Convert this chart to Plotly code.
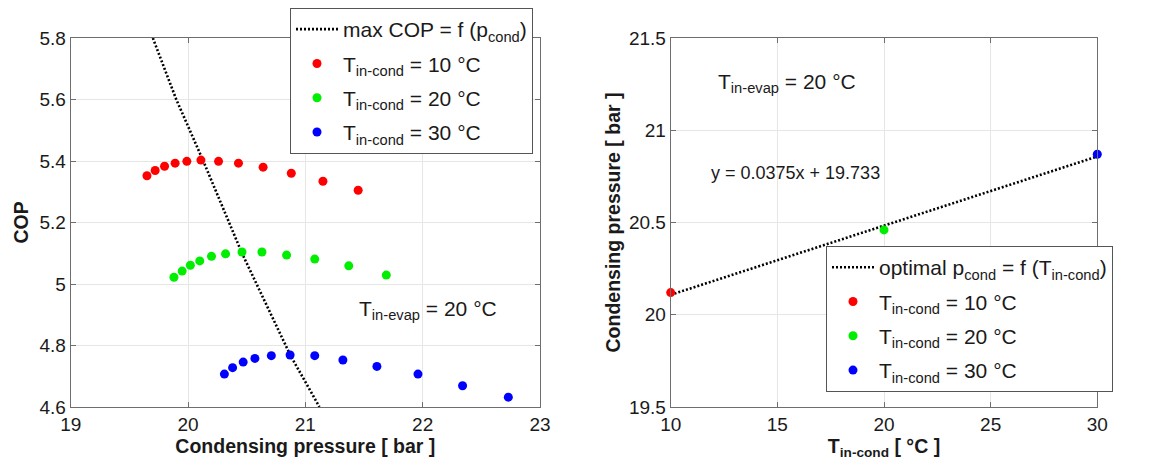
import plotly.graph_objects as go

# ---------------- data: left panel (COP vs condensing pressure) ----------------
p10 = [19.65, 19.72, 19.80, 19.89, 19.99, 20.11, 20.26, 20.43, 20.64, 20.88, 21.15, 21.45]
cop10 = [5.352, 5.369, 5.383, 5.393, 5.399, 5.403, 5.399, 5.393, 5.380, 5.360, 5.334, 5.305]

p20 = [19.88, 19.95, 20.02, 20.10, 20.20, 20.32, 20.46, 20.63, 20.84, 21.08, 21.37, 21.69]
cop20 = [5.022, 5.042, 5.061, 5.075, 5.090, 5.098, 5.104, 5.104, 5.094, 5.081, 5.059, 5.029]

p30 = [20.31, 20.38, 20.47, 20.57, 20.71, 20.87, 21.08, 21.32, 21.61, 21.96, 22.34, 22.73]
cop30 = [4.707, 4.728, 4.746, 4.758, 4.767, 4.769, 4.767, 4.753, 4.732, 4.707, 4.669, 4.632]

pmax = [19.70, 19.90, 20.13, 20.46, 20.87, 21.12]
copmax = [5.80, 5.60, 5.40, 5.10, 4.77, 4.60]

# ---------------- data: right panel (optimal pressure vs inlet temperature) ----------------
t_in = [10, 20, 30]
p_opt = [20.12, 20.46, 20.87]
fit_t = [10, 30]
fit_p = [20.108, 20.858]

labels = ["T<sub>in-cond</sub> = 10 °C", "T<sub>in-cond</sub> = 20 °C", "T<sub>in-cond</sub> = 30 °C"]
colors = ["#ff0000", "#00ee00", "#0000ff"]

FONT = "Liberation Sans, Arial, sans-serif"
TXT = "#1a1a1a"

# page body has an 8 px margin, so the figure is laid out 8 px smaller
OFF = 8
W, H = 1166 - OFF, 461 - OFF
MT = 38.3 - OFF
MB = H - (406.7 - OFF)
PH = H - MT - MB


def px_x(px):
    return (px - OFF) / W


def px_y(py):
    return (H - MB - (py - OFF)) / PH


fig = go.Figure()

# left panel
fig.add_trace(go.Scatter(x=pmax, y=copmax, mode="lines",
                         line=dict(color="black", width=2.6, dash="2px,2px"),
                         name="max COP = f (p<sub>cond</sub>)", legend="legend",
                         legendgroup="a0", xaxis="x", yaxis="y"))
for k, (xs, ys, lab, c) in enumerate(zip([p10, p20, p30], [cop10, cop20, cop30], labels, colors)):
    fig.add_trace(go.Scatter(x=xs, y=ys, mode="markers",
                             marker=dict(color=c, size=9),
                             name=lab, legend="legend", legendgroup="a%d" % (k + 1),
                             xaxis="x", yaxis="y"))

# right panel
fig.add_trace(go.Scatter(x=fit_t, y=fit_p, mode="lines",
                         line=dict(color="black", width=2.6, dash="2px,2px"),
                         name="optimal p<sub>cond</sub> = f (T<sub>in-cond</sub>)",
                         legend="legend2", legendgroup="b0", xaxis="x2", yaxis="y2"))
for i in range(3):
    fig.add_trace(go.Scatter(x=[t_in[i]], y=[p_opt[i]], mode="markers",
                             marker=dict(color=colors[i], size=9),
                             name=labels[i], legend="legend2", legendgroup="b%d" % (i + 1),
                             xaxis="x2", yaxis="y2", cliponaxis=False, showlegend=False))
    # legend-only entry drawn as lines+markers with an invisible line
    fig.add_trace(go.Scatter(x=[None], y=[None], mode="lines+markers",
                             marker=dict(color=colors[i], size=9),
                             line=dict(color="rgba(0,0,0,0)", width=1),
                             name=labels[i], legend="legend2", legendgroup="b%d" % (i + 1),
                             xaxis="x2", yaxis="y2"))

axis_common = dict(
    showgrid=True, gridcolor="#e6e6e6", gridwidth=1,
    showline=True, linecolor="#6e6e6e", linewidth=1, mirror="ticks",
    ticks="inside", ticklen=5, tickcolor="#6e6e6e",
    zeroline=False, automargin=False,
    tickfont=dict(family=FONT, size=19, color=TXT),
)
title_font = dict(family=FONT, size=19.5, color=TXT)
legend_common = dict(xanchor="left", yanchor="top",
                     bgcolor="white", bordercolor="#555555", borderwidth=1,
                     font=dict(family=FONT, size=21, color=TXT), itemwidth=42,
                     tracegroupgap=4)

fig.update_layout(
    width=W, height=H,
    margin=dict(l=0, r=0, t=MT, b=MB, pad=0),
    paper_bgcolor="white", plot_bgcolor="white",
    font=dict(family=FONT, color=TXT),
    xaxis=dict(domain=[px_x(70.7), px_x(540)], range=[19, 23], dtick=1, anchor="y",
               title=dict(text="<b>Condensing pressure [ bar ]</b>", standoff=4, font=title_font),
               **axis_common),
    yaxis=dict(domain=[0, 1], range=[4.6, 5.8], dtick=0.2, anchor="x",
               title=dict(text="<b>COP</b>", standoff=5, font=title_font),
               **axis_common),
    xaxis2=dict(domain=[px_x(670.7), px_x(1097.3)], range=[10, 30], dtick=5, anchor="y2",
                title=dict(text="<b>T<sub>in-cond</sub> [ °C ]</b>", standoff=2, font=title_font),
                **axis_common),
    yaxis2=dict(domain=[0, 1], range=[19.5, 21.5], dtick=0.5, anchor="x2",
                title=dict(text="<b>Condensing pressure [ bar ]</b>", standoff=3, font=title_font),
                **axis_common),
    legend=dict(x=px_x(290), y=px_y(8), **legend_common),
    legend2=dict(x=px_x(826), y=px_y(246), **legend_common),
    showlegend=True,
)

fig.add_annotation(x=21.44, y=4.915, xref="x", yref="y", xanchor="left", yanchor="middle",
                   text="T<sub>in-evap</sub> = 20 °C", showarrow=False,
                   font=dict(family=FONT, size=21, color=TXT))
fig.add_annotation(x=12.13, y=21.255, xref="x2", yref="y2", xanchor="left", yanchor="middle",
                   text="T<sub>in-evap</sub> = 20 °C", showarrow=False,
                   font=dict(family=FONT, size=21, color=TXT))
fig.add_annotation(x=11.81, y=20.766, xref="x2", yref="y2", xanchor="left", yanchor="middle",
                   text="y = 0.0375x + 19.733", showarrow=False,
                   font=dict(family=FONT, size=18, color=TXT))

fig.write_html("out.html")
